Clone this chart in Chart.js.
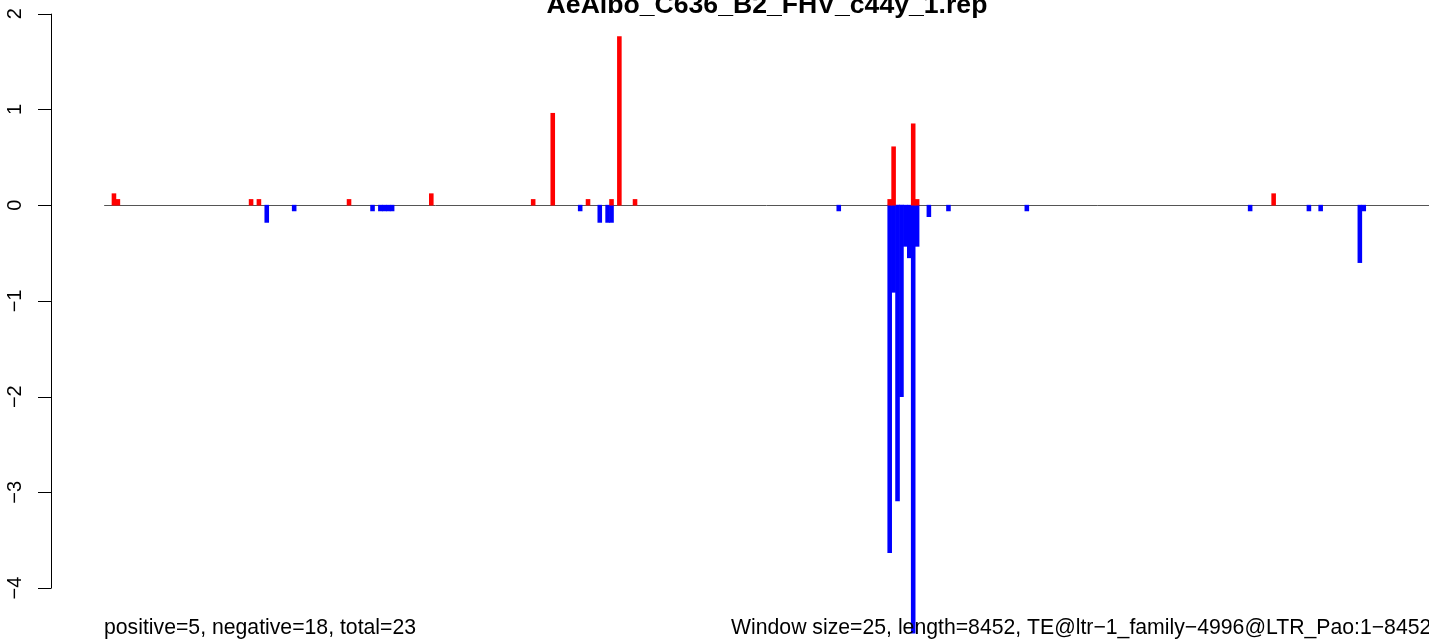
<!DOCTYPE html>
<html>
<head>
<meta charset="utf-8">
<script src="https://cdn.jsdelivr.net/npm/chart.js@4.4.1/dist/chart.umd.min.js"></script>
<style>
html,body{margin:0;padding:0;background:#fff;overflow:hidden;}
canvas{display:block;}
</style>
</head>
<body>
<canvas id="c" width="1429" height="639" style="width:1429px;height:639px"></canvas>
<script>
// ---- data ----
const windowCount = 338;                 // 8452 bp / 25 bp windows
const titleText = "AeAlbo_C636_B2_FHV_c44y_1.rep";
const leftNote = "positive=5, negative=18, total=23";
const rightNote = "Window size=25, length=8452, TE@ltr\u22121_family\u22124996@LTR_Pao:1\u22128452";
const yTicks = [2, 1, 0, -1, -2, -3, -4];
const yTickLabels = ["2", "1", "0", "\u22121", "\u22122", "\u22123", "\u22124"];

// positive (red) bars: window index (0-based) and value
const posWin = [2, 3, 37, 39, 62, 83, 109, 114, 123, 129, 131, 135, 200, 201, 206, 207, 298];
const posVal = [0.12, 0.06, 0.06, 0.06, 0.06, 0.12, 0.06, 0.96, 0.06, 0.06, 1.76, 0.06, 0.06, 0.61, 0.85, 0.06, 0.12];

// negative (blue) bars
const negWin = [41, 48, 68, 70, 71, 72, 73, 121, 126, 128, 129, 187, 200, 201, 202, 203, 204, 205, 206, 207, 210, 215, 235, 292, 307, 310, 320, 321];
const negVal = [-0.18, -0.06, -0.06, -0.06, -0.06, -0.06, -0.06, -0.06, -0.18, -0.18, -0.18, -0.06, -3.63, -0.91, -3.09, -2.00, -0.43, -0.55, -4.47, -0.43, -0.12, -0.06, -0.06, -0.06, -0.06, -0.06, -0.60, -0.06];

// ---- build series ----
const categories = [];
for (let i = 1; i <= windowCount; i++) categories.push(String(i));
const posSeries = new Array(windowCount).fill(null);
posWin.forEach((w, i) => { posSeries[w] = posVal[i]; });
const negSeries = new Array(windowCount).fill(null);
negWin.forEach((w, i) => { negSeries[w] = negVal[i]; });

const FONT = '"Liberation Sans", Arial, Helvetica, sans-serif';

function fitSize(ctx, text, weight, width) {
  ctx.font = weight + " 100px " + FONT;
  const w = ctx.measureText(text).width;
  return 100 * width / w;
}

const decor = {
  id: 'decor',
  beforeDatasetsDraw(chart) {
    const ctx = chart.ctx, y = chart.scales.y, a = chart.chartArea;
    const y0 = Math.round(y.getPixelForValue(0)) + 0.5;
    ctx.save();
    ctx.strokeStyle = '#555555';
    ctx.lineWidth = 1;
    ctx.beginPath();
    ctx.moveTo(a.left, y0);
    ctx.lineTo(chart.width, y0);
    ctx.stroke();
    ctx.restore();
  },
  afterDraw(chart) {
    const ctx = chart.ctx, y = chart.scales.y;
    ctx.save();
    // y axis
    const ax = 51.5;
    ctx.strokeStyle = '#000';
    ctx.lineWidth = 1;
    ctx.beginPath();
    ctx.moveTo(ax, y.getPixelForValue(yTicks[0]));
    ctx.lineTo(ax, y.getPixelForValue(yTicks[yTicks.length - 1]));
    yTicks.forEach(v => {
      const py = Math.round(y.getPixelForValue(v)) + 0.5;
      ctx.moveTo(38, py);
      ctx.lineTo(ax, py);
    });
    ctx.stroke();
    ctx.fillStyle = '#000';
    ctx.font = "20px " + FONT;
    ctx.textAlign = 'center';
    ctx.textBaseline = 'alphabetic';
    yTicks.forEach((v, i) => {
      const py = y.getPixelForValue(v);
      ctx.save();
      ctx.translate(21, py);
      ctx.rotate(-Math.PI / 2);
      ctx.fillText(yTickLabels[i], 0, 0);
      ctx.restore();
    });
    // title
    const ts = fitSize(ctx, titleText, 'bold', 441);
    ctx.font = "bold " + ts.toFixed(2) + "px " + FONT;
    ctx.textAlign = 'center';
    ctx.fillText(titleText, 767, 12.5);
    // bottom notes
    const ns = fitSize(ctx, leftNote, 'normal', 312);
    ctx.font = ns.toFixed(2) + "px " + FONT;
    ctx.textAlign = 'left';
    ctx.fillText(leftNote, 104, 634);
    ctx.fillText(rightNote, 731, 634);
    ctx.restore();
  }
};

new Chart(document.getElementById('c'), {
  type: 'bar',
  data: {
    labels: categories,
    datasets: [
      { data: posSeries, backgroundColor: '#FF0000', borderWidth: 0, grouped: false, barPercentage: 1, categoryPercentage: 1, clip: false },
      { data: negSeries, backgroundColor: '#0000FF', borderWidth: 0, grouped: false, barPercentage: 1, categoryPercentage: 1, clip: false }
    ]
  },
  options: {
    responsive: false,
    devicePixelRatio: 1,
    animation: false,
    layout: { padding: { left: 104.16, right: 0.6, top: 13.7, bottom: 3 } },
    plugins: { legend: { display: false }, tooltip: { enabled: false }, title: { display: false } },
    scales: {
      x: { display: false, offset: true, grid: { display: false } },
      y: { display: false, min: -4.5, max: 2, grid: { display: false } }
    }
  },
  plugins: [decor]
});
</script>
</body>
</html>
